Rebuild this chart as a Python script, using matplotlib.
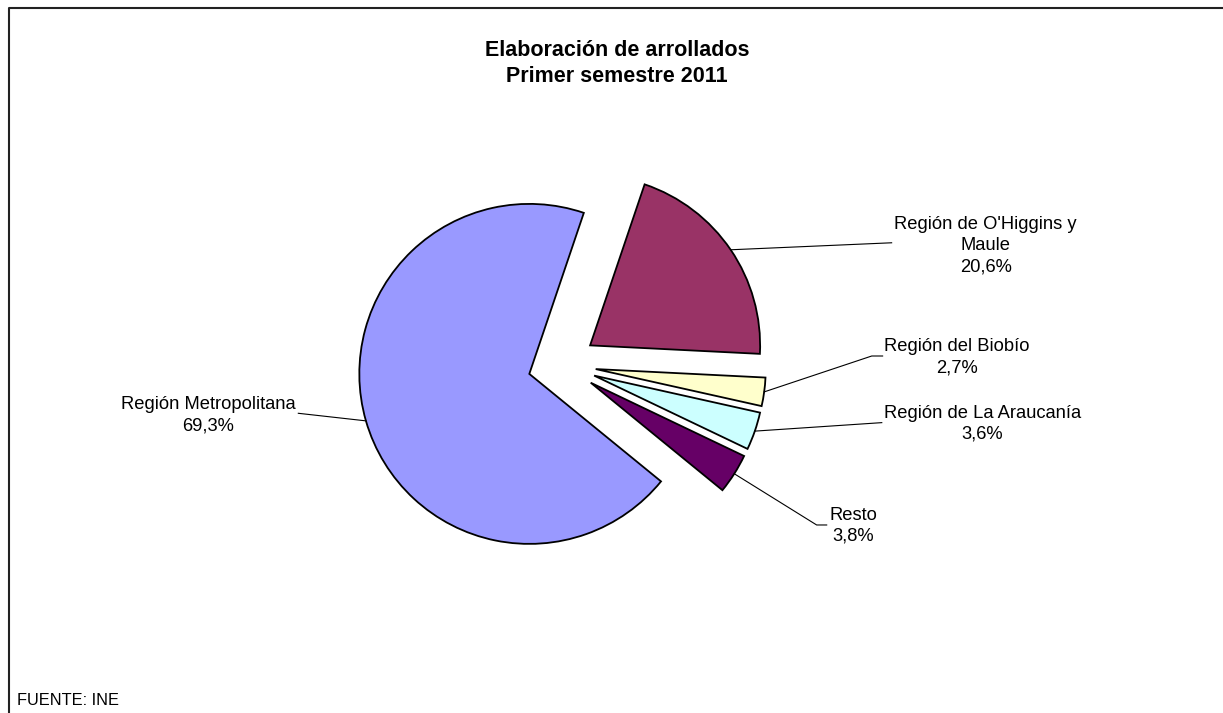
import numpy as np
import matplotlib
matplotlib.use("Agg")
import matplotlib.pyplot as plt
from matplotlib.lines import Line2D

plt.rcParams["font.family"] = ["Liberation Sans", "DejaVu Sans"]

# data, clockwise from the top
categories = ["Región de O'Higgins y\nMaule", "Región del Biobío",
              "Región de La Araucanía", "Resto", "Región Metropolitana"]
shares = [20.6, 2.7, 3.6, 3.8, 69.3]
colors = ["#993366", "#FFFFCC", "#CCFFFF", "#660066", "#9999FF"]

# layout (pixels of the 1223x713 canvas)
W, H = 1223, 713
cx, cy, rad = 562, 364.5, 170

# label centres and leader line bends, in pie units relative to centre
label_pos = [(2.492, 0.700), (2.324, 0.043), (2.474, -0.349),
             (1.714, -0.948), (-2.081, -0.299)]
leader_pts = [[(1.939, 0.716)],
              [(1.822, 0.050), (1.886, 0.050)],
              [(1.881, -0.342)],
              [(1.498, -0.944), (1.557, -0.944)],
              [(-1.551, -0.287)]]

fig = plt.figure(figsize=(W / 100, H / 100), dpi=100)
ax = fig.add_axes([0, 0, 1, 1])

wedges, _ = ax.pie(shares, colors=colors, explode=[0.2] * len(shares),
                   startangle=71.3, counterclock=False, radius=1,
                   wedgeprops=dict(edgecolor="black", linewidth=1.3))

ax.set_xlim(-cx / rad, (W - cx) / rad)
ax.set_ylim(-(H - cy) / rad, cy / rad)
ax.set_aspect("auto")
ax.axis("off")

for w, name, val, (tx, ty), pts in zip(wedges, categories, shares, label_pos, leader_pts):
    mid = np.deg2rad((w.theta1 + w.theta2) / 2)
    x0 = w.center[0] + w.r * np.cos(mid)
    y0 = w.center[1] + w.r * np.sin(mid)
    xs = [x0] + [p[0] for p in pts]
    ys = [y0] + [p[1] for p in pts]
    ax.plot(xs, ys, color="black", linewidth=0.8)
    pct = f"{val:.1f}%".replace(".", ",")
    ax.text(tx, ty, f"{name}\n{pct}", ha="center", va="center",
            fontsize=13.2, linespacing=1.33)

fig.text(617 / W, 1 - 63.5 / H, "Elaboración de arrollados\nPrimer semestre 2011",
         ha="center", va="center", fontweight="bold", fontsize=15.5, linespacing=1.27)
fig.text(17 / W, 1 - 705 / H, "FUENTE: INE", ha="left", va="baseline", fontsize=11.8)

# outer frame (only top and left visible)
fig.add_artist(Line2D([8.5 / W, 8.5 / W, 1], [0, 1 - 8 / H, 1 - 8 / H],
                      transform=fig.transFigure, color="#222222", linewidth=1.5))

fig.savefig("out.png", dpi=100)
